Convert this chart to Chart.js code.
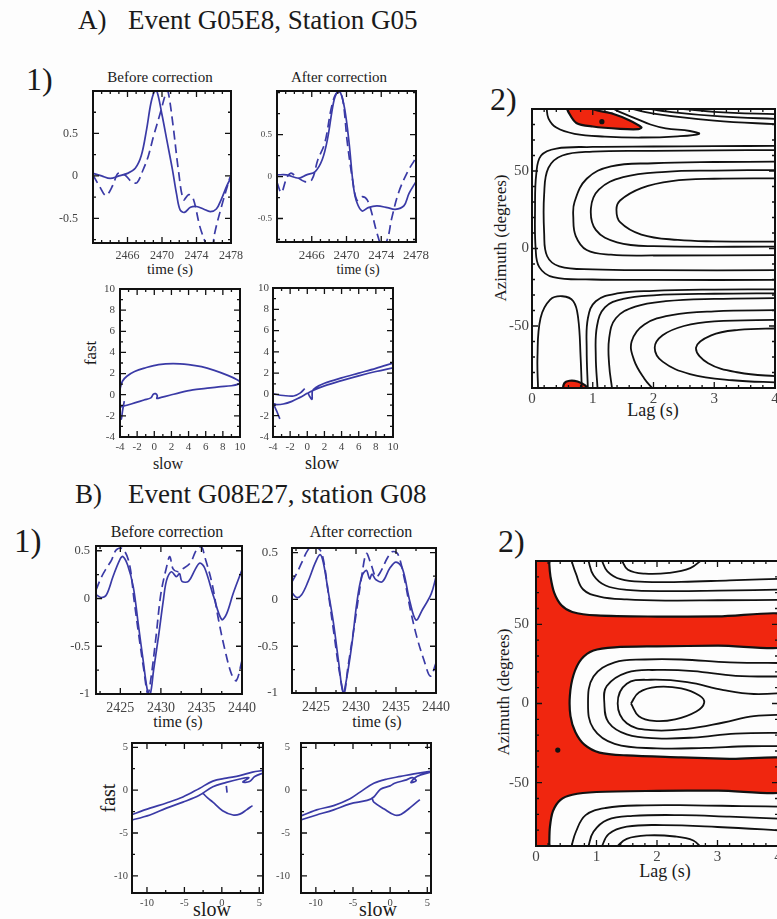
<!DOCTYPE html>
<html>
<head>
<meta charset="utf-8">
<script src="https://cdn.jsdelivr.net/npm/chart.js@4.4.1/dist/chart.umd.min.js"></script>
<style>
  body { margin: 0; width: 777px; height: 919px; overflow: hidden; background: #fdfdfd; position: relative; font-family: "Liberation Serif", "Times New Roman", serif; }
  .t { position: absolute; white-space: nowrap; line-height: 1; color: #1a1a1a; }
  canvas { position: absolute; }
</style>
</head>
<body>
<script>
// ---- waveforms, event G05E8 (time s, amplitude)
const A_BEFORE_SOLID = [[2462.0,0.03],[2463.0,0.0],[2464.0,-0.03],[2465.0,0.0],[2466.0,0.03],[2466.9,0.09],[2467.6,0.24],[2468.2,0.54],[2468.7,0.85],[2469.1,0.99],[2469.4,1.0],[2470.0,0.72],[2470.6,0.4],[2471.2,0.08],[2471.7,-0.22],[2472.1,-0.4],[2472.6,-0.43],[2473.3,-0.37],[2474.0,-0.36],[2474.8,-0.39],[2475.6,-0.42],[2476.3,-0.39],[2476.9,-0.27],[2477.5,-0.12],[2478.0,-0.02]];
const A_BEFORE_DASH = [[2462.0,0.01],[2462.8,-0.13],[2463.5,-0.23],[2464.3,-0.11],[2464.9,0.03],[2465.7,0.01],[2466.5,-0.07],[2467.1,-0.08],[2467.8,0.07],[2468.4,0.23],[2469.0,0.46],[2469.8,0.74],[2470.5,0.99],[2470.7,1.0],[2471.3,0.58],[2471.9,0.07],[2472.5,-0.28],[2473.1,-0.22],[2473.6,-0.26],[2474.4,-0.6],[2475.2,-0.83],[2475.7,-0.95],[2476.1,-0.68],[2476.9,-0.36],[2477.9,-0.01]];
const A_AFTER_SOLID = [[2462.0,0.02],[2463.1,0.02],[2464.5,-0.02],[2465.4,0.02],[2466.4,0.06],[2467.2,0.2],[2467.8,0.44],[2468.5,0.88],[2468.9,1.0],[2469.3,1.0],[2469.8,0.8],[2470.3,0.4],[2470.8,-0.12],[2471.2,-0.31],[2471.8,-0.41],[2472.5,-0.37],[2473.5,-0.35],[2474.7,-0.37],[2475.6,-0.39],[2476.6,-0.35],[2477.2,-0.2],[2478.0,-0.06]];
const A_AFTER_DASH = [[2462.0,-0.07],[2462.5,-0.19],[2463.1,-0.02],[2463.6,0.04],[2464.2,0.0],[2465.2,-0.06],[2466.0,-0.04],[2466.7,0.2],[2467.5,0.4],[2468.3,0.84],[2468.9,1.0],[2469.5,0.95],[2470.1,0.4],[2470.7,-0.04],[2471.2,-0.28],[2471.8,-0.24],[2472.4,-0.28],[2473.0,-0.47],[2473.5,-0.67],[2474.1,-0.83],[2474.7,-0.75],[2475.2,-0.5],[2476.0,-0.19],[2477.0,0.05],[2477.8,0.19],[2478.0,0.22]];
// ---- particle motion, event G05E8 (slow, fast); null = pen up
const A_HODO_BEFORE = [[-3.5,-0.6],[-3.7,-1.5],[-3.85,-2.3],[-4.0,-1.9],[-4.0,-1.2],[-3.2,-1.0],[-2.2,-0.75],[-1.2,-0.5],[-0.4,-0.3],[-0.1,0.05],[0.15,0.1],[0.35,-0.1],[0.3,-0.35],[0.8,-0.25],[1.8,-0.05],[3,0.2],[4.5,0.45],[6,0.6],[7.5,0.75],[9,0.85],[9.8,1.0],[10,1.2],[9.6,1.45],[8.5,1.85],[7,2.3],[5.5,2.65],[4,2.85],[2.2,2.95],[0.5,2.85],[-1,2.55],[-2.3,2.2],[-3.2,1.75],[-3.7,1.3],[-3.95,0.7],[-4,0.3]];
const A_HODO_AFTER = [[-3.2,-2.3],[-3.5,-1.7],[-3.9,-0.9],[-3.6,-0.95],[-2.8,-0.9],[-1.8,-0.65],[-0.9,-0.3],[0,0.1],[0.6,0.35],[2,0.8],[4,1.3],[6,1.75],[8,2.15],[10,2.5],null,[10,2.95],[8,2.45],[6,2.0],[4,1.55],[2,1.05],[1.0,0.65],[0.6,0.3],[0.55,-0.45],[0.25,-0.15],[0.1,0.15],null,[-0.3,0.55],[-0.8,0.15],[-1.6,-0.15],[-2.8,-0.1],[-4,0.05]];
// ---- waveforms, event G08E27
const B_BEFORE_SOLID = [[2422.0,0.04],[2422.7,0.01],[2423.3,0.04],[2424.1,0.23],[2424.9,0.4],[2425.3,0.44],[2425.9,0.35],[2426.6,0.12],[2427.2,-0.26],[2427.8,-0.64],[2428.4,-0.99],[2428.7,-1.0],[2429.1,-0.75],[2429.7,-0.4],[2430.3,-0.02],[2430.7,0.19],[2431.3,0.28],[2431.9,0.23],[2432.3,0.26],[2432.6,0.18],[2433.4,0.18],[2434.2,0.3],[2434.8,0.37],[2435.4,0.32],[2436.5,0.02],[2437.5,-0.22],[2438.1,-0.16],[2438.9,0.05],[2440.0,0.3]];
const B_BEFORE_DASH = [[2422.0,0.09],[2422.7,0.23],[2423.3,0.32],[2423.9,0.4],[2424.5,0.51],[2425.3,0.52],[2426.1,0.37],[2426.7,-0.02],[2427.3,-0.4],[2427.9,-0.75],[2428.4,-1.0],[2428.8,-0.82],[2429.4,-0.4],[2430.0,0.05],[2430.7,0.33],[2431.1,0.44],[2431.5,0.31],[2432.1,0.28],[2432.5,0.3],[2433.6,0.37],[2434.4,0.51],[2435.0,0.54],[2435.4,0.44],[2436.3,0.16],[2437.1,-0.22],[2437.9,-0.54],[2438.7,-0.79],[2439.3,-0.86],[2440.0,-0.65]];
const B_AFTER_SOLID = [[2422.0,0.07],[2422.6,0.02],[2423.2,0.05],[2424.0,0.19],[2424.9,0.39],[2425.5,0.48],[2425.9,0.4],[2426.5,0.1],[2427.2,-0.26],[2427.8,-0.65],[2428.4,-1.0],[2428.8,-0.86],[2429.5,-0.47],[2430.1,-0.04],[2430.7,0.24],[2431.3,0.31],[2431.7,0.22],[2432.0,0.27],[2432.5,0.21],[2433.3,0.19],[2434.2,0.33],[2435.0,0.4],[2435.8,0.33],[2436.7,-0.01],[2437.5,-0.22],[2438.3,-0.11],[2439.4,0.06],[2440.0,0.24]];
const B_AFTER_DASH = [[2422.0,0.19],[2422.6,0.28],[2423.2,0.39],[2424.0,0.53],[2424.6,0.56],[2425.5,0.53],[2426.0,0.39],[2426.6,0.03],[2427.3,-0.4],[2427.9,-0.76],[2428.5,-1.0],[2429.0,-0.72],[2429.9,-0.22],[2430.7,0.24],[2431.3,0.49],[2431.9,0.37],[2432.5,0.24],[2433.1,0.3],[2433.9,0.44],[2434.5,0.51],[2435.2,0.49],[2436.0,0.24],[2436.8,-0.11],[2437.6,-0.4],[2438.5,-0.65],[2439.3,-0.82],[2440.0,-0.68]];
// ---- particle motion, event G08E27
const B_HODO_BEFORE = [[5.5,2.3],[4.1,2.1],[2.4,1.7],[0.6,1.4],[-1.2,1.05],[-3,0.2],[-5.2,-0.8],[-7.4,-1.5],[-9.6,-2.1],[-12.5,-3.0],null,[-12.5,-3.6],[-9.6,-2.9],[-7.4,-2.1],[-5.2,-1.4],[-3,-0.6],[-1.2,0.4],[0.6,0.9],[2.4,1.3],[3.6,1.45],[2.8,0.95],[3.7,1.0],[4.4,1.6],[5.5,2.0],null,[-2.6,-0.3],[-1.9,-0.9],[-1.2,-1.4],[0.1,-2.4],[1.5,-2.9],[2.4,-2.8],[3.3,-2.3],[4.1,-1.8],null,[0.6,0.5],[0.7,-0.3]];
const B_HODO_AFTER = [[5.5,2.2],[3.2,1.9],[1.4,1.6],[-0.4,1.3],[-2.2,0.8],[-4,-0.2],[-5.4,-1.0],[-7.6,-1.8],[-9.9,-2.3],[-12.5,-3.2],null,[-12.5,-3.6],[-9.9,-2.9],[-7.6,-2.3],[-5.4,-1.6],[-3.1,-1.2],[-2.2,-0.8],[-1.3,0.1],[0,0.5],[0.6,0.8],[2.2,1.2],[3.0,1.45],[3.5,1.1],[2.8,0.9],[3.6,1.6],[5.5,2.1],null,[-2.4,-1.0],[-2.2,-1.4],[-0.8,-2.2],[0.6,-2.9],[1.5,-2.8],[2.9,-1.9],[4.0,-1.1]];
// ---- misfit contours, event G05E8 (lag s, azimuth deg)
const A_RED_TOP = [[0.55,93],[0.6,88],[0.73,81],[1.0,78.7],[1.45,77.2],[1.75,77],[1.8,78.2],[1.6,82.8],[1.34,86.8],[1.0,90],[0.95,93]];
const A_RED_BOT = [[0.5,-93],[0.53,-87],[0.62,-85.3],[0.75,-85.8],[0.88,-88.5],[0.95,-93]];
const A_MIN = [[1.15,81.8]];
const A_CONTOURS = [
  [[0.24,91],[0.27,84],[0.4,78],[0.7,74],[1.2,72.2],[1.8,71.6],[2.4,72.4],[2.75,74],[2.6,75.8],[2.2,77.5],[1.95,80],[1.7,84],[1.45,88],[1.3,91]],
  [[1.55,91],[2.0,87],[3.0,82.5],[4.1,80]],
  [[1.8,91],[2.3,88],[3.1,85.2],[4.1,83.5]],
  [[2.2,91],[3.0,88.2],[4.1,86.5]],
  [[4.1,66.3],[3,66],[2,65.8],[1,65.5],[0.4,64.5],[0.15,60],[0.07,48],[0.05,25],[0.06,0],[0.12,-12],[0.35,-18.5],[1,-20],[2,-20.3],[4.1,-20.3]],
  [[4.1,63.5],[3,63.3],[2,63],[1,62.5],[0.5,60],[0.27,52],[0.2,35],[0.2,10],[0.25,-5],[0.45,-11.5],[1,-13.5],[2,-14],[4.1,-14]],
  [[4.1,56],[3,55.8],[2,55],[1.3,53],[0.9,45],[0.7,30],[0.68,20],[0.72,8],[0.9,-1],[1.3,-4],[2,-4.5],[4.1,-4.2]],
  [[4.1,50.6],[3,50.3],[2.2,49.5],[1.5,46],[1.1,38],[0.97,26],[1.05,12],[1.4,4],[2,1.5],[4.1,1.2]],
  [[4.1,45.3],[3,45],[2.3,43.5],[1.8,39],[1.45,31],[1.39,25],[1.45,17],[1.8,9],[2.4,5.5],[3,4.6],[4.1,4.4]],
  [[0.1,-91],[0.09,-70],[0.14,-45],[0.3,-33],[0.5,-30.8],[0.68,-34],[0.76,-45],[0.8,-70],[0.82,-91]],
  [[4.1,-26.3],[3,-26.5],[2,-27.3],[1.4,-29],[1.05,-34],[0.92,-45],[0.9,-65],[0.92,-91]],
  [[4.1,-28.9],[3,-29.2],[2,-30.2],[1.5,-32.5],[1.2,-38],[1.07,-50],[1.05,-70],[1.08,-91]],
  [[4.1,-32],[3,-32.5],[2.2,-34],[1.7,-37.5],[1.38,-45],[1.27,-58],[1.27,-75],[1.32,-91]],
  [[4.1,-39.7],[3,-40.5],[2.3,-43],[1.85,-49],[1.64,-60],[1.68,-72],[1.85,-84],[2.0,-91]],
  [[4.1,-46],[3,-47],[2.5,-50],[2.15,-56],[2.02,-64],[2.15,-73],[2.6,-81],[3.3,-85],[4.1,-86.5]],
  [[4.1,-51.5],[3.4,-52.5],[2.95,-56],[2.7,-64],[2.9,-74],[3.4,-80],[4.1,-82.7]]
];
// ---- misfit contours, event G08E27
const B_RED = [[-0.3,95],[0.22,95],[0.22,88],[0.24,80],[0.3,70],[0.42,62],[0.6,57.8],[1.0,55.6],[2,54.9],[3,55],[4.3,55.3],[4.3,36.9],[3,36.5],[2,36.1],[1.3,35.5],[0.95,33.5],[0.75,28],[0.62,18],[0.56,5],[0.57,-8],[0.65,-18],[0.8,-26],[1.05,-31],[1.5,-32.8],[2.4,-34],[3.2,-35],[4.3,-36],[4.3,-54.7],[3,-55],[2,-55.2],[1,-55.9],[0.6,-57.6],[0.4,-61],[0.28,-68],[0.23,-78],[0.22,-88],[0.22,-95],[-0.3,-95]];
const B_MIN = [[0.36,-29.4]];
const B_CONTOURS = [
  [[0.58,91],[0.66,82],[0.78,72],[1.05,67.5],[1.5,65.7],[2.2,65],[3,65.2],[4.2,65.5]],
  [[0.86,91],[0.95,81],[1.15,74.5],[1.5,71.8],[2.2,71],[3,71.3],[4.2,72]],
  [[1.08,91],[1.18,83.5],[1.4,78.5],[1.8,76.8],[2.4,76.8],[3.2,77.8],[4.2,79]],
  [[1.41,91],[1.52,84.5],[1.8,82],[2.2,82.5],[2.55,85.5],[2.75,91]],
  [[1.57,0],[1.7,7],[2.0,10.5],[2.4,9.5],[2.7,5],[2.78,0.5],[2.65,-5],[2.3,-10],[1.95,-11],[1.7,-8],[1.57,0]],
  [[4.2,7],[3.6,6],[3.1,8.5],[2.5,13.5],[1.9,15],[1.5,12.5],[1.35,0],[1.5,-12.5],[1.9,-16.8],[2.5,-16],[3.1,-12],[3.6,-8],[4.2,-7]],
  [[4.2,17],[3.3,17.5],[2.6,20.5],[2,21.2],[1.5,19.5],[1.17,11],[1.13,0],[1.2,-12],[1.5,-19.5],[2,-22],[2.6,-21.5],[3.3,-19],[4.2,-18.5]],
  [[4.2,25.5],[3.2,26],[2.4,27.8],[1.8,27.8],[1.3,26],[0.95,17],[0.86,0],[0.95,-16],[1.3,-25.5],[2,-28.3],[2.8,-28],[3.5,-27],[4.2,-27]],
  [[0.58,-91],[0.66,-81],[0.82,-70.5],[1.15,-66],[1.8,-64.3],[2.6,-64.3],[3.4,-64.8],[4.2,-65.2]],
  [[0.86,-91],[0.95,-81],[1.18,-73.5],[1.6,-71],[2.4,-70.5],[3.2,-71.5],[4.2,-73]],
  [[1.08,-91],[1.2,-82.5],[1.5,-77.8],[2.1,-76.8],[3,-78],[4.2,-80.5]],
  [[1.32,-91],[1.5,-85.5],[1.85,-83.3],[2.3,-84],[2.6,-86.5],[2.73,-91]]
];
// ---- tick labels
const A_WAVE_XTICKS = [2466, 2470, 2474, 2478];
const A_WAVE_YTICKS = [-0.5, 0, 0.5];
const A_HODO_TICKS = [-4, -2, 0, 2, 4, 6, 8, 10];
const B_WAVE_XTICKS = [2425, 2430, 2435, 2440];
const B_WAVE_YTICKS = [-1, -0.5, 0, 0.5];
const B_HODO_TICKS = [-10, -5, 0, 5];
const LAG_TICKS = [0, 1, 2, 3, 4];
const AZ_TICKS = [-50, 0, 50];

const SERIF = "'Liberation Serif', 'Times New Roman', serif";
const BLUE = "#3a3aa6";
Chart.defaults.font.family = SERIF;
const pts = (arr) => arr.map((p) => (p ? { x: p[0], y: p[1] } : { x: null, y: null }));

const tickFrame = {
  id: "tickFrame",
  afterDatasetsDraw(chart, args, o) {
    const { ctx, chartArea: a } = chart;
    const marks = (scale, step, isX) => {
      for (let i = Math.ceil(scale.min / step - 1e-6); i * step <= scale.max + 1e-6; i++) {
        const v = i * step;
        const major = scale.ticks.some((t) => Math.abs(t.value - v) < 1e-6);
        const len = major ? 6 : 3;
        const p = scale.getPixelForValue(v);
        if (isX) { ctx.moveTo(p, a.bottom); ctx.lineTo(p, a.bottom - len); ctx.moveTo(p, a.top); ctx.lineTo(p, a.top + len); }
        else { ctx.moveTo(a.left, p); ctx.lineTo(a.left + len, p); ctx.moveTo(a.right, p); ctx.lineTo(a.right - len, p); }
      }
    };
    ctx.save();
    ctx.strokeStyle = "#111";
    ctx.lineWidth = 1.3;
    ctx.beginPath();
    marks(chart.scales.x, o.xStep, true);
    marks(chart.scales.y, o.yStep, false);
    ctx.stroke();
    ctx.lineWidth = 2;
    ctx.strokeRect(a.left, a.top, a.right - a.left, a.bottom - a.top);
    ctx.restore();
  }
};

function axis(range, ticks, size, pad, isX, fixed) {
  return {
    type: "linear", min: range[0], max: range[1],
    grid: { display: false, drawTicks: false }, border: { display: false },
    ticks: { font: { family: SERIF, size }, color: "#444", padding: pad, autoSkip: false, maxRotation: 0, callback: (v) => String(v) },
    afterBuildTicks: (s) => { s.ticks = ticks.map((v) => ({ value: v })); },
    afterFit: (s) => {
      if (isX) { s.height = fixed; s.paddingLeft = 0; s.paddingRight = 0; }
      else { s.width = fixed; s.paddingTop = 0; s.paddingBottom = 0; }
    }
  };
}

function panel(area, c) {
  const [l, t, r, b] = area;
  const padT = 8, padR = c.padR ?? 16, yw = c.yw, xh = c.xh ?? 26;
  const w = r - l + yw + padR, h = b - t + padT + xh;
  const canvas = document.createElement("canvas");
  canvas.width = w; canvas.height = h;
  canvas.style.left = (l - yw) + "px"; canvas.style.top = (t - padT) + "px";
  canvas.style.width = w + "px"; canvas.style.height = h + "px";
  document.body.appendChild(canvas);
  return new Chart(canvas, {
    type: "scatter",
    data: { datasets: c.datasets },
    options: {
      responsive: false, animation: false, events: [],
      layout: { padding: { top: padT, right: padR, left: 0, bottom: 0 }, autoPadding: false },
      plugins: { legend: { display: false }, tooltip: { enabled: false }, tickFrame: c.frame },
      scales: {
        x: axis(c.xRange, c.xTicks, c.xFont, c.xPad, true, xh),
        y: axis(c.yRange, c.yTicks, c.yFont, c.yPad, false, yw)
      }
    },
    plugins: [tickFrame]
  });
}

const trace = (arr, dash) => ({ data: pts(arr), showLine: true, pointRadius: 0, borderColor: BLUE, borderWidth: 1.7, tension: 0.35, borderDash: dash ? [9, 5] : [] });
const contour = (arr) => ({ data: pts(arr), showLine: true, pointRadius: 0, borderColor: "#111", borderWidth: 1.8, tension: 0.4 });
const redArea = (arr) => ({ data: pts(arr), showLine: true, pointRadius: 0, borderColor: "#111", borderWidth: 2.2, tension: 0.3, fill: "shape", backgroundColor: "#f0260f" });
const dot = (arr) => ({ data: pts(arr), pointRadius: 2.6, backgroundColor: "#111", borderWidth: 0 });

// text helpers: x = left or centre, y = baseline
function txt(s, x, y, size, center) {
  const d = document.createElement("div");
  d.className = "t"; d.textContent = s;
  d.style.left = x + "px"; d.style.top = (y - 0.84 * size) + "px"; d.style.fontSize = size + "px";
  if (center) d.style.transform = "translateX(-50%)";
  document.body.appendChild(d);
}
function vtxt(s, cx, cy, size) {
  const d = document.createElement("div");
  d.className = "t"; d.textContent = s;
  d.style.left = cx + "px"; d.style.top = cy + "px"; d.style.fontSize = size + "px";
  d.style.transform = "translate(-50%,-50%) rotate(-90deg)";
  document.body.appendChild(d);
}

// ---- A) headings and labels
txt("A)", 78, 30, 27); txt("Event G05E8, Station G05", 128, 30, 27);
txt("1)", 26, 90, 32); txt("2)", 490, 110, 32);
txt("Before correction", 160, 83, 15, true); txt("After correction", 339, 83, 15, true);
txt("time (s)", 170, 275, 15, true); txt("time (s)", 358, 275, 14, true);
vtxt("fast", 90, 353, 17); txt("slow", 168, 469, 16, true); txt("slow", 322, 469, 18, true);
vtxt("Azimuth (degrees)", 500, 238, 17); txt("Lag (s)", 653, 416, 18, true);
// ---- B) headings and labels
txt("B)", 75, 504, 27); txt("Event G08E27, station G08", 128, 504, 27);
txt("1)", 14, 553, 33); txt("2)", 498, 552, 32);
txt("Before correction", 167, 537, 16, true); txt("After correction", 361, 537, 16, true);
txt("time (s)", 178, 727, 16, true); txt("time (s)", 377, 727, 16, true);
vtxt("fast", 108, 798, 20); txt("slow", 212, 916, 20, true); txt("slow", 378, 916, 20, true);
vtxt("Azimuth (degrees)", 503, 692, 17); txt("Lag (s)", 665, 877, 18, true);

function drawAll() {
  // ---- A) panels
  panel([93, 91, 231, 243], { yw: 40, yRange: [-0.79, 1.0], yTicks: A_WAVE_YTICKS, yFont: 12, yPad: 15, xRange: [2462, 2478], xTicks: A_WAVE_XTICKS, xFont: 12, xPad: 6, frame: { xStep: 1, yStep: 0.25 }, datasets: [trace(A_BEFORE_SOLID), trace(A_BEFORE_DASH, true)] });
  panel([277, 91, 416, 242], { yw: 26, yRange: [-0.78, 1.02], yTicks: A_WAVE_YTICKS, yFont: 9, yPad: 5, xRange: [2462, 2478], xTicks: A_WAVE_XTICKS, xFont: 13, xPad: 6, frame: { xStep: 1, yStep: 0.25 }, datasets: [trace(A_AFTER_SOLID), trace(A_AFTER_DASH, true)] });
  panel([120, 289, 240, 437], { yw: 24, yRange: [-4, 10], yTicks: A_HODO_TICKS, yFont: 11, yPad: 5, xRange: [-4, 10], xTicks: A_HODO_TICKS, xFont: 11, xPad: 4, frame: { xStep: 1, yStep: 1 }, datasets: [trace(A_HODO_BEFORE)] });
  panel([273, 288, 393, 437], { yw: 24, yRange: [-4, 10], yTicks: A_HODO_TICKS, yFont: 11, yPad: 4, xRange: [-4, 10], xTicks: A_HODO_TICKS, xFont: 11, xPad: 4, frame: { xStep: 1, yStep: 1 }, datasets: [trace(A_HODO_AFTER)] });
  panel([532, 109, 775, 388], { yw: 34, padR: 4, yRange: [-90, 90], yTicks: AZ_TICKS, yFont: 15, yPad: 3, xRange: [0, 4], xTicks: LAG_TICKS, xFont: 15, xPad: 2, frame: { xStep: 0.2, yStep: 10 },
    datasets: [...A_CONTOURS.map(contour), dot(A_MIN), redArea(A_RED_TOP), redArea(A_RED_BOT)] });
  // ---- B) panels
  panel([96, 546, 242, 694], { yw: 36, yRange: [-1, 0.55], yTicks: B_WAVE_YTICKS, yFont: 12.5, yPad: 6, xRange: [2422, 2440], xTicks: B_WAVE_XTICKS, xFont: 14, xPad: 6, frame: { xStep: 2.5, yStep: 0.25 }, datasets: [trace(B_BEFORE_SOLID), trace(B_BEFORE_DASH, true)] });
  panel([292, 548, 436, 693], { yw: 45, yRange: [-1, 0.55], yTicks: B_WAVE_YTICKS, yFont: 13, yPad: 14, xRange: [2422, 2440], xTicks: B_WAVE_XTICKS, xFont: 14, xPad: 6, frame: { xStep: 2.5, yStep: 0.25 }, datasets: [trace(B_AFTER_SOLID), trace(B_AFTER_DASH, true)] });
  panel([132, 743, 263, 893], { yw: 24, yRange: [-12, 5.5], yTicks: B_HODO_TICKS, yFont: 10.5, yPad: 4, xRange: [-12, 5.5], xTicks: B_HODO_TICKS, xFont: 10.5, xPad: 4, frame: { xStep: 2.5, yStep: 2.5 }, datasets: [trace(B_HODO_BEFORE)] });
  panel([301, 743, 431, 893], { yw: 30, yRange: [-12, 5.5], yTicks: B_HODO_TICKS, yFont: 10.5, yPad: 11, xRange: [-12, 5.5], xTicks: B_HODO_TICKS, xFont: 10.5, xPad: 4, frame: { xStep: 2.5, yStep: 2.5 }, datasets: [trace(B_HODO_AFTER)] });
  panel([536, 561, 778, 846], { yw: 40, padR: 2, yRange: [-90, 90], yTicks: AZ_TICKS, yFont: 15, yPad: 7, xRange: [0, 4], xTicks: LAG_TICKS, xFont: 15, xPad: 2, frame: { xStep: 0.2, yStep: 10 },
    datasets: [...B_CONTOURS.map(contour), dot(B_MIN), redArea(B_RED)] });
}

// canvas text needs the serif face loaded before the charts paint
document.fonts.load("12px 'Liberation Serif'").then(drawAll, drawAll);
</script>
</body>
</html>
